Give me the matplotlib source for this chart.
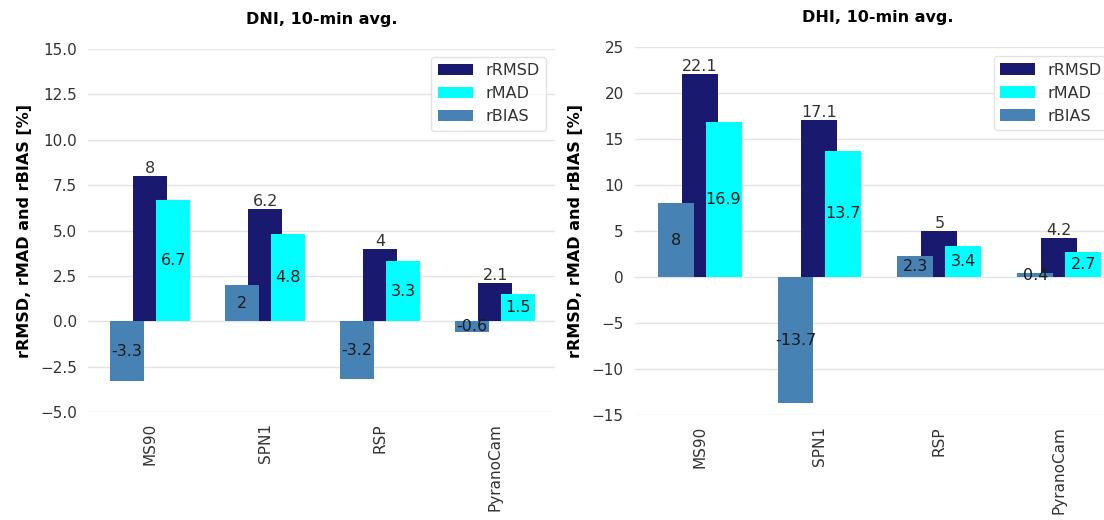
import numpy as np
import matplotlib.pyplot as plt

stations = ["MS90", "SPN1", "RSP", "PyranoCam"]

dni_rmsd = [8, 6.2, 4, 2.1]
dni_mad = [6.7, 4.8, 3.3, 1.5]
dni_bias = [-3.3, 2, -3.2, -0.6]

dhi_rmsd = [22.1, 17.1, 5, 4.2]
dhi_mad = [16.9, 13.7, 3.4, 2.7]
dhi_bias = [8, -13.7, 2.3, 0.4]

colors = {"rRMSD": "midnightblue", "rMAD": "cyan", "rBIAS": "steelblue"}

fig = plt.figure(figsize=(11.04, 5.2), dpi=100)
ax1 = fig.add_axes([0.0797, 0.2077, 0.423, 0.698])
ax2 = fig.add_axes([0.575, 0.2019, 0.441, 0.7077])


def bar_panel(ax, rmsd, mad, bias, title, ylim, yticks, fmt, leg_anchor):
    x = np.arange(len(stations))
    w = 0.3
    b1 = ax.bar(x, rmsd, w, color=colors["rRMSD"], label="rRMSD", zorder=2)
    b2 = ax.bar(x + 0.2, mad, w, color=colors["rMAD"], label="rMAD", zorder=3)
    b3 = ax.bar(x - 0.2, bias, w, color=colors["rBIAS"], label="rBIAS", zorder=4)
    labels = []
    labels += ax.bar_label(b1, fmt="%g", label_type="edge", fontsize=11.5, color="#333333", padding=0)
    labels += ax.bar_label(b2, fmt="%g", label_type="center", fontsize=11.5, color="#1a1a1a")
    labels += ax.bar_label(b3, fmt="%g", label_type="center", fontsize=11.5, color="#1a1a1a")
    for t in labels:
        t.set_zorder(10)

    ax.set_xlim(-0.54, 3.52)
    ax.set_ylim(*ylim)
    ax.set_yticks(yticks)
    ax.set_yticklabels([fmt.format(t).replace("-", "\u2212") for t in yticks])
    ax.set_xticks(x)
    ax.set_xticklabels(stations, rotation=90)
    ax.tick_params(length=0, labelsize=11, labelcolor="#333333", pad=8)
    ax.grid(axis="y", color="#e3e3e3", linewidth=1, zorder=0)
    ax.set_axisbelow(True)
    for s in ax.spines.values():
        s.set_visible(False)
    ax.set_title(title, fontsize=11.5, fontweight="bold", pad=18)
    ax.set_ylabel("rRMSD, rMAD and rBIAS [%]", fontsize=11.5, fontweight="bold", labelpad=6)
    leg = ax.legend(loc="upper right", bbox_to_anchor=leg_anchor, borderaxespad=0,
                    fontsize=11.5, frameon=True, fancybox=True,
                    handlelength=2.2, labelcolor="#333333")
    leg.get_frame().set_edgecolor("#dddddd")


bar_panel(ax1, dni_rmsd, dni_mad, dni_bias, "DNI, 10-min avg.", (-5, 15),
          np.arange(-5, 15.1, 2.5), "{:.1f}", (0.981, 0.978))
bar_panel(ax2, dhi_rmsd, dhi_mad, dhi_bias, "DHI, 10-min avg.", (-15, 25),
          np.arange(-15, 26, 5), "{:.0f}", (0.973, 0.975))

fig.savefig("out.png", dpi=100)
